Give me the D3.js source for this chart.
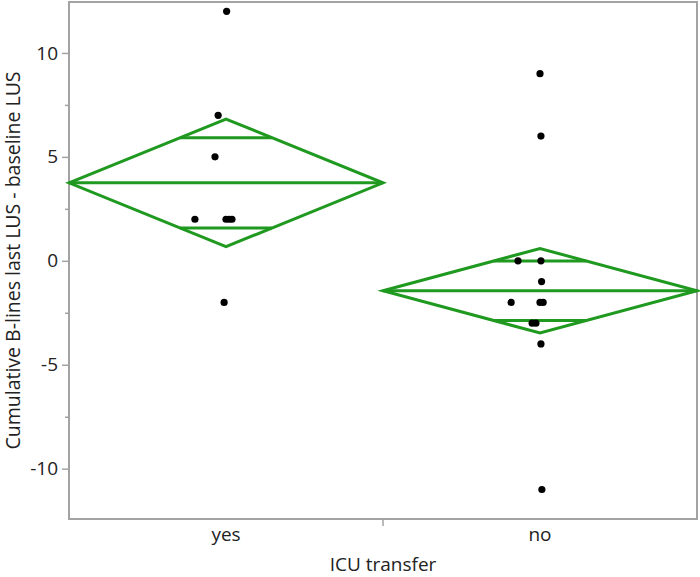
<!DOCTYPE html>
<html>
<head>
<meta charset="utf-8">
<script src="https://cdn.jsdelivr.net/npm/d3@7"></script>
<style>
  body { margin: 0; background: #fff; }
  text { font-family: 'Open Sans', 'Noto Sans', sans-serif; fill: #222; }
</style>
</head>
<body>
<div id="chart"></div>
<script>
// ----------------------------------------
// Data
// ----------------------------------------
let groups = ['yes', 'no']

let yesValues = [12, 7, 5, 2, 2, 2, 2, -2]
let yesJitter = [0.002, -0.025, -0.035, -0.099, 0, 0.01, 0.019, -0.006]

let noValues = [9, 6, 0, 0, -1, -2, -2, -2, -3, -3, -4, -11]
let noJitter = [0, 0.003, -0.07, 0.003, 0.005, -0.092, 0, 0.01, -0.025, -0.013, 0.003, 0.006]

// mean and 95% CI per group (diamonds)
let groupMeans = [3.75, -1.44]
let groupLower = [0.68, -3.47]
let groupUpper = [6.82, 0.59]

let yMajorTicks = [-10, -5, 0, 5, 10]
let yMinorTicks = [-7.5, -2.5, 2.5, 7.5]

let yTitle = 'Cumulative B-lines last LUS - baseline LUS'
let xTitle = 'ICU transfer'

// ----------------------------------------
// Styles
// ----------------------------------------
let green = '#1f991f'
let frameC = '#a3a3a3'
let fontSize = '19px'

var width = 700
var height = 577
var margin = { top: 2, right: 3, bottom: 58, left: 69 }

var svg = d3.select('#chart').append('svg')
  .attr('width', width)
  .attr('height', height)

var x = d3.scaleBand()
  .domain(groups)
  .range([margin.left, width - margin.right])
  .padding(0)

var y = d3.scaleLinear()
  .domain([-12.42, 12.45])
  .range([height - margin.bottom, margin.top])

var x0 = margin.left
var x1 = width - margin.right
var y0 = height - margin.bottom
var y1 = margin.top

// frame
svg.append('rect')
  .attr('x', x0)
  .attr('y', y1)
  .attr('width', x1 - x0)
  .attr('height', y0 - y1)
  .style('fill', 'none')
  .style('stroke', frameC)
  .style('stroke-width', 2)

// y axis, major and minor ticks
var yAxis = svg.append('g')
  .attr('transform', 'translate(' + x0 + ',0)')
  .call(d3.axisLeft(y).tickValues(yMajorTicks).tickSize(7).tickPadding(4)
    .tickFormat(d3.format('d')))
yAxis.select('.domain').remove()
yAxis.selectAll('.tick line').style('stroke', frameC).style('stroke-width', 1.5)
yAxis.selectAll('.tick text')
  .style('font-size', fontSize)
  .style('font-family', "'Open Sans', sans-serif")
  .style('fill', '#222')
  .text(d => d < 0 ? '-' + Math.abs(d) : d)

var yMinor = svg.append('g')
  .attr('transform', 'translate(' + x0 + ',0)')
  .call(d3.axisLeft(y).tickValues(yMinorTicks).tickSize(4).tickFormat(''))
yMinor.select('.domain').remove()
yMinor.selectAll('.tick line').style('stroke', frameC).style('stroke-width', 1.5)

// x axis: labels and divider tick
var xAxis = svg.append('g')
  .attr('transform', 'translate(0,' + y0 + ')')
  .call(d3.axisBottom(x).tickSize(0).tickPadding(9))
xAxis.select('.domain').remove()
xAxis.selectAll('.tick text')
  .style('font-size', fontSize)
  .style('font-family', "'Open Sans', sans-serif")
  .style('fill', '#222')

svg.append('line')
  .attr('x1', x('no'))
  .attr('x2', x('no'))
  .attr('y1', y0)
  .attr('y2', y0 + 7)
  .style('stroke', frameC)
  .style('stroke-width', 1.5)

// axis titles
svg.append('text')
  .attr('x', (x0 + x1) / 2)
  .attr('y', 571)
  .style('text-anchor', 'middle')
  .style('font-size', fontSize)
  .text(xTitle)

svg.append('text')
  .attr('transform', 'translate(20,' + (y0 + y1) / 2 + ') rotate(-90)')
  .style('text-anchor', 'middle')
  .style('font-size', '19.5px')
  .text(yTitle)

// ----------------------------------------
// Means diamonds
// ----------------------------------------
var diamonds = svg.append('g').attr('class', 'diamonds')
var bw = x.bandwidth()
var k = 1 / Math.SQRT2

groups.forEach((g, i) => {
  var left = x(g)
  var mid = left + bw / 2
  var right = left + bw
  var m = groupMeans[i]
  var lo = groupLower[i]
  var hi = groupUpper[i]

  diamonds.append('path')
    .attr('d', 'M' + left + ',' + y(m) +
      'L' + mid + ',' + y(hi) +
      'L' + right + ',' + y(m) +
      'L' + mid + ',' + y(lo) + 'Z')
    .style('fill', 'none')
    .style('stroke', green)
    .style('stroke-width', 3)
    .style('stroke-linejoin', 'miter')

  // mean line
  diamonds.append('line')
    .attr('x1', left).attr('x2', right)
    .attr('y1', y(m)).attr('y2', y(m))
    .style('stroke', green)
    .style('stroke-width', 3)

  // overlap marks
  var half = (bw / 2) * (1 - k)
  ;[m + (hi - m) * k, m - (m - lo) * k].forEach(v => {
    diamonds.append('line')
      .attr('x1', mid - half).attr('x2', mid + half)
      .attr('y1', y(v)).attr('y2', y(v))
      .style('stroke', green)
      .style('stroke-width', 3)
  })
})

// ----------------------------------------
// Points
// ----------------------------------------
var points = []
yesValues.forEach((v, i) => points.push({ g: 'yes', v: v, j: yesJitter[i] }))
noValues.forEach((v, i) => points.push({ g: 'no', v: v, j: noJitter[i] }))

svg.append('g').attr('class', 'points')
  .selectAll('circle')
  .data(points)
  .enter().append('circle')
    .attr('cx', d => x(d.g) + bw / 2 + d.j * bw)
    .attr('cy', d => y(d.v))
    .attr('r', 3.6)
    .style('fill', '#000')
</script>
</body>
</html>
